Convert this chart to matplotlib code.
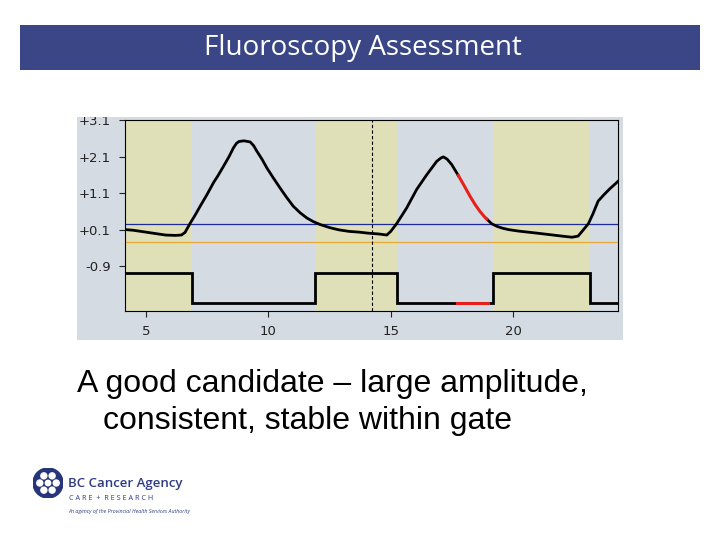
import numpy as np
import matplotlib
matplotlib.use("Agg")
from matplotlib import pyplot as plt
from matplotlib.patches import Rectangle, Circle

# breathing trace (time in s, amplitude in cm)
t = [4.15, 4.5, 5.0, 5.5, 5.8, 6.2, 6.45, 6.6, 6.8, 7.0, 7.22, 7.5, 7.76, 7.95,
     8.17, 8.4, 8.58, 8.7, 8.8, 9.0, 9.26, 9.4, 9.53, 9.75, 9.94, 10.2, 10.48,
     10.75, 11.02, 11.3, 11.57, 11.83, 12.11, 12.52, 12.9, 13.3, 13.7, 14.1, 14.5,
     14.84, 15.0, 15.24, 15.45, 15.65, 16.06, 16.47, 16.88, 17.05, 17.15, 17.3,
     17.49, 17.76]
amp = [0.10, 0.08, 0.03, -0.02, -0.05, -0.06, -0.05, 0.02, 0.26, 0.48, 0.74, 1.06,
       1.38, 1.58, 1.83, 2.10, 2.34, 2.46, 2.51, 2.53, 2.50, 2.40, 2.25, 2.02, 1.79,
       1.52, 1.24, 0.98, 0.74, 0.56, 0.42, 0.32, 0.24, 0.15, 0.09, 0.05, 0.03, 0.0,
       -0.02, -0.05, 0.05, 0.26, 0.48, 0.69, 1.20, 1.60, 1.97, 2.06, 2.09, 2.03,
       1.88, 1.58]
# portion of the trace flagged outside tolerance
t_red = [17.76, 18.0, 18.24, 18.45, 18.64, 18.8, 18.92]
amp_red = [1.58, 1.30, 1.01, 0.78, 0.60, 0.47, 0.39]
t2 = [18.92, 19.12, 19.33, 19.55, 19.8, 20.2, 20.6, 21.0, 21.5, 22.0, 22.4, 22.65,
      22.85, 23.07, 23.25, 23.47, 23.7, 23.95, 24.15, 24.28]
amp2 = [0.39, 0.26, 0.19, 0.14, 0.10, 0.06, 0.03, 0.0, -0.04, -0.08, -0.11, -0.08,
        0.08, 0.26, 0.52, 0.88, 1.05, 1.22, 1.34, 1.42]

# gating windows (beam on) and gate signal
gate_windows = [(4.15, 6.88), (11.91, 15.24), (19.19, 23.13)]
gate_t = [4.15, 6.88, 6.88, 11.91, 11.91, 15.24, 15.24, 19.19, 19.19, 23.13, 23.13, 24.28]
gate_v = [-1.08, -1.08, -1.9, -1.9, -1.08, -1.08, -1.9, -1.9, -1.08, -1.08, -1.9, -1.9]
gate_red_t = [17.72, 18.96]
gate_red_v = [-1.9, -1.9]

upper_thresh = 0.26
lower_thresh = -0.24
cursor_t = 14.22

xticks = [5, 10, 15, 20]
yticks = [3.1, 2.1, 1.1, 0.1, -0.9]
ylabels = ["+3.1", "+2.1", "+1.1", "+0.1", "-0.9"]

fig = plt.figure(figsize=(7.2, 5.4), dpi=100)
fig.patch.set_facecolor("white")

# title bar
fig.patches.append(Rectangle((20 / 720, 1 - 70 / 540), 680 / 720, 45 / 540,
                             transform=fig.transFigure, facecolor="#3a4686",
                             edgecolor="none", zorder=-1))
fig.text(363 / 720, 1 - 48 / 540, "Fluoroscopy Assessment", color="white",
         fontsize=20, family="Open Sans", ha="center", va="center")

# grey panel around the plot
panel = Rectangle((77 / 720, 1 - 340 / 540), 546 / 720, 223 / 540,
                  transform=fig.transFigure, facecolor="#d4dbe3",
                  edgecolor="none", zorder=-1)
fig.patches.append(panel)

ax = fig.add_axes([125 / 720, 1 - 311 / 540, 493 / 720, 191 / 540])
ax.set_zorder(1)
ax.set_facecolor("#d4dbe3")
for x0, x1 in gate_windows:
    ax.axvspan(x0, x1, color="#dfe0b8", lw=0, zorder=0)

ax.axhline(upper_thresh, color="#1c2a9a", lw=0.9, zorder=2)
ax.axhline(lower_thresh, color="#e8a838", lw=0.9, zorder=2)
ax.axvline(cursor_t, color="black", lw=0.8, ls=(0, (3, 2)), zorder=2)

ax.plot(gate_t, gate_v, color="black", lw=2, zorder=3, solid_joinstyle="miter")
ax.plot(gate_red_t, gate_red_v, color="#e8201c", lw=2.2, zorder=4)
ax.plot(t, amp, color="black", lw=2, zorder=3)
ax.plot(t2, amp2, color="black", lw=2, zorder=3)
ax.plot(t_red, amp_red, color="#e8201c", lw=2.2, zorder=4)

ax.set_xlim(4.15, 24.28)
ax.set_ylim(-2.13, 3.1)
ax.set_xticks(xticks)
ax.set_xticklabels([str(v) for v in xticks])
ax.set_yticks(yticks)
ax.set_yticklabels(ylabels)
ax.tick_params(length=4, width=0.8, labelsize=9.5, colors="#222222", pad=6)
for s in ax.spines.values():
    s.set_linewidth(0.8)
for lbl in ax.get_yticklabels() + ax.get_xticklabels():
    lbl.set_family("DejaVu Sans")
    lbl.set_clip_path(panel)

# caption
fig.text(77 / 720, 1 - 384 / 540, "A good candidate \u2013 large amplitude,",
         fontsize=23, family="Liberation Sans", ha="left", va="center")
fig.text(103 / 720, 1 - 421 / 540, "consistent, stable within gate",
         fontsize=23, family="Liberation Sans", ha="left", va="center")

# agency logo
logo = fig.add_axes([33 / 720, 1 - 498 / 540, 30 / 720, 30 / 540])
logo.set_xlim(-1, 1)
logo.set_ylim(-1, 1)
logo.set_aspect("equal")
logo.axis("off")
logo.add_patch(Circle((0, 0), 1.0, color="#27357a"))
for a in np.linspace(0, 2 * np.pi, 7)[:-1]:
    logo.add_patch(Circle((0.55 * np.cos(a), 0.55 * np.sin(a)), 0.2, color="white"))
logo.add_patch(Circle((0, 0), 0.18, color="white"))
fig.text(68 / 720, 1 - 483 / 540, "BC Cancer Agency", color="#2f3b82",
         fontsize=9.5, family="Open Sans", weight="semibold", ha="left", va="center")
fig.text(69 / 720, 1 - 499 / 540, "C A R E  +  R E S E A R C H", color="#2f3b82",
         fontsize=5.2, family="Open Sans", ha="left", va="center")
fig.text(68 / 720, 1 - 511 / 540,
         "An agency of the Provincial Health Services Authority", color="#2f3b82",
         fontsize=3.8, family="Open Sans", style="italic", ha="left", va="center")

fig.savefig("out.png", dpi=100)
